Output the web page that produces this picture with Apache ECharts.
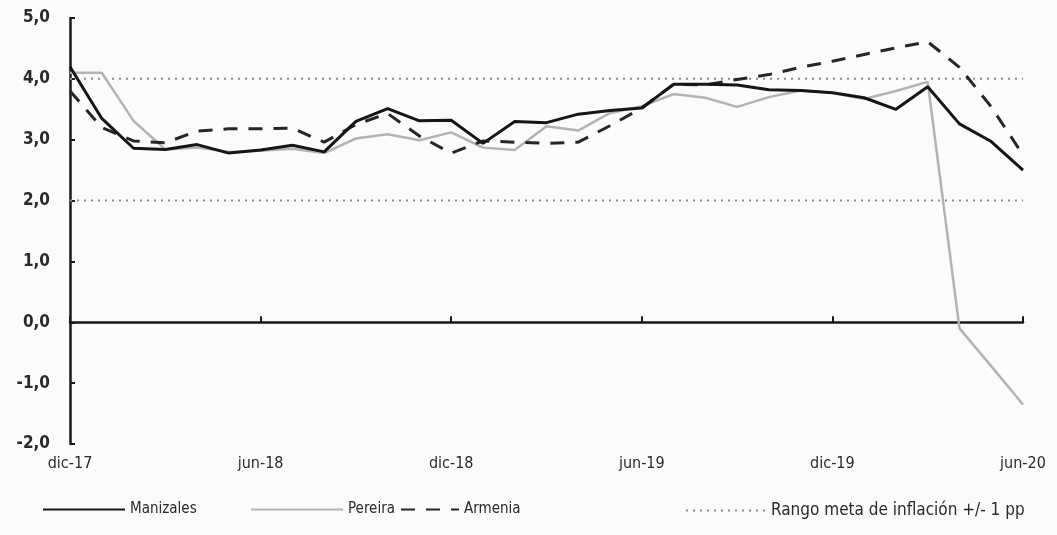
<!DOCTYPE html>
<html>
<head>
<meta charset="utf-8">
<script src="https://cdn.jsdelivr.net/npm/echarts@6/dist/echarts.min.js"></script>
<style>
html,body{margin:0;padding:0;background:#fbfbfb;}
#chart{width:1057px;height:535px;}
</style>
</head>
<body>
<div id="chart"></div>
<script>
const categories = [
  'dic-17','ene-18','feb-18','mar-18','abr-18','may-18','jun-18','jul-18','ago-18','sep-18','oct-18','nov-18',
  'dic-18','ene-19','feb-19','mar-19','abr-19','may-19','jun-19','jul-19','ago-19','sep-19','oct-19','nov-19',
  'dic-19','ene-20','feb-20','mar-20','abr-20','may-20','jun-20'
];
const manizales = [4.20,3.35,2.86,2.84,2.92,2.78,2.83,2.91,2.80,3.30,3.51,3.31,3.32,2.94,3.30,3.28,3.42,3.48,3.52,3.91,3.91,3.90,3.82,3.81,3.77,3.69,3.50,3.87,3.26,2.97,2.50];
const pereira   = [4.10,4.10,3.31,2.84,2.87,2.80,2.82,2.85,2.78,3.02,3.09,2.99,3.12,2.87,2.83,3.22,3.15,3.44,3.55,3.75,3.69,3.54,3.70,3.81,3.77,3.67,3.80,3.95,-0.10,-0.72,-1.35];
const armenia   = [3.80,3.20,2.98,2.95,3.14,3.18,3.18,3.19,2.96,3.25,3.43,3.06,2.78,2.98,2.96,2.94,2.96,3.23,3.52,3.91,3.90,3.99,4.07,4.19,4.29,4.40,4.51,4.61,4.19,3.54,2.75];
const metaSuperior = 4.0;
const metaInferior = 2.0;
const yTicks = { min: -2, max: 5, interval: 1 };
const rangoName = 'Rango meta de inflación +/- 1 pp';

const font = "'DejaVu Sans Condensed', 'Liberation Sans Narrow', 'Liberation Sans', sans-serif";
const chart = echarts.init(document.getElementById('chart'));
const txt = { fontFamily: font, fontSize: 15, color: '#2a2a2a' };
const legendBase = { top: 497, itemHeight: 12, itemGap: 0, textStyle: txt, itemStyle: { opacity: 0 } };
chart.setOption({
  backgroundColor: '#fbfbfb',
  animation: false,
  grid: { left: 70, right: 34, top: 18, bottom: 91 },
  legend: [
    Object.assign({ data: ['Manizales'], left: 37, itemWidth: 82 }, legendBase),
    Object.assign({ data: ['Pereira'], left: 245, itemWidth: 92 }, legendBase),
    Object.assign({ data: ['Armenia'], left: 395, itemWidth: 58 }, legendBase),
    Object.assign({ data: [rangoName], left: 680, itemWidth: 80 }, legendBase,
      { textStyle: { fontFamily: font, fontSize: 17, color: '#2a2a2a' } })
  ],
  xAxis: [
    {
      type: 'category', data: categories, boundaryGap: false,
      axisLine: { onZero: true, lineStyle: { color: '#1a1a1a', width: 2.5 } },
      axisTick: { show: true, inside: true, interval: 5, length: 6, lineStyle: { color: '#1a1a1a', width: 2 } },
      axisLabel: { show: false }, splitLine: { show: false }
    },
    {
      type: 'category', data: categories, boundaryGap: false, position: 'bottom',
      axisLine: { show: false, onZero: false }, axisTick: { show: false },
      axisLabel: { interval: 5, margin: 12, fontFamily: font, fontSize: 16, color: '#2a2a2a', showMaxLabel: true },
      splitLine: { show: false }
    }
  ],
  yAxis: {
    type: 'value', min: yTicks.min, max: yTicks.max, interval: yTicks.interval,
    axisLine: { show: true, lineStyle: { color: '#1a1a1a', width: 2.5 } },
    axisTick: { show: true, inside: true, length: 5, lineStyle: { color: '#1a1a1a', width: 2 } },
    axisLabel: { margin: 20, fontFamily: font, fontSize: 17, fontWeight: 'bold', color: '#2a2a2a',
      formatter: v => v.toFixed(1).replace('.', ',') },
    splitLine: { show: false }
  },
  series: [
    { name: rangoName, type: 'line', xAxisIndex: 0, data: categories.map(() => metaSuperior), symbol: 'none',
      lineStyle: { color: '#8c8c8c', width: 2, type: [2, 5] }, itemStyle: { color: '#8c8c8c' }, z: 1 },
    { name: rangoName, type: 'line', xAxisIndex: 0, data: categories.map(() => metaInferior), symbol: 'none',
      lineStyle: { color: '#8c8c8c', width: 2, type: [2, 5] }, itemStyle: { color: '#8c8c8c' }, z: 1 },
    { name: 'Pereira', type: 'line', xAxisIndex: 0, data: pereira, symbol: 'none',
      lineStyle: { color: '#b3b3b3', width: 2.5 }, itemStyle: { color: '#b3b3b3' }, z: 2 },
    { name: 'Armenia', type: 'line', xAxisIndex: 0, data: armenia, symbol: 'none',
      lineStyle: { color: '#262626', width: 3, type: [14, 11] }, itemStyle: { color: '#262626' }, z: 3 },
    { name: 'Manizales', type: 'line', xAxisIndex: 0, data: manizales, symbol: 'none',
      lineStyle: { color: '#151515', width: 3 }, itemStyle: { color: '#151515' }, z: 4 }
  ]
});
</script>
</body>
</html>
